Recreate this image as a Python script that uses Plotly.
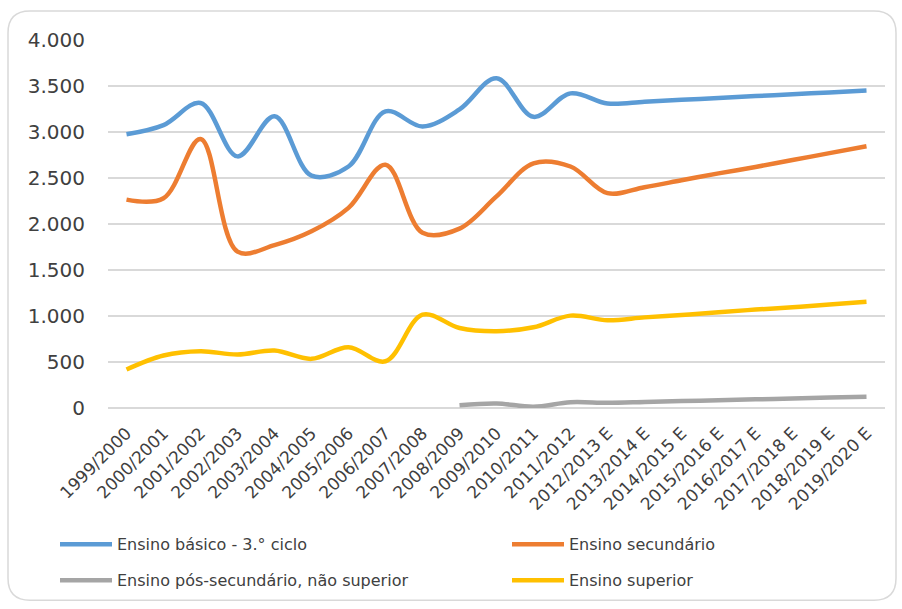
import plotly.graph_objects as go

# School years (E = estimate)
anos = [
    "1999/2000", "2000/2001", "2001/2002", "2002/2003", "2003/2004",
    "2004/2005", "2005/2006", "2006/2007", "2007/2008", "2008/2009",
    "2009/2010", "2010/2011", "2011/2012", "2012/2013 E", "2013/2014 E",
    "2014/2015 E", "2015/2016 E", "2016/2017 E", "2017/2018 E",
    "2018/2019 E", "2019/2020 E",
]

basico_3ciclo = [2975, 3075, 3315, 2735, 3170, 2525, 2625, 3225, 3060, 3245,
                 3585, 3165, 3420, 3310, 3330, 3350, 3370, 3390, 3410, 3430, 3450]

secundario = [2265, 2280, 2925, 1700, 1770, 1920, 2175, 2645, 1905, 1950,
              2300, 2660, 2625, 2335, 2400, 2475, 2550, 2620, 2695, 2770, 2845]

pos_secundario = [None, None, None, None, None, None, None, None, None, 30,
                  49, 14, 63, 56, 65, 75, 84, 94, 103, 113, 122]

superior = [418, 570, 617, 581, 624, 534, 660, 508, 1015, 870,
            835, 877, 1004, 953, 985, 1010, 1040, 1070, 1095, 1125, 1155]

# (name, values, colour, legend slot)
series = [
    ("Ensino básico - 3.° ciclo", basico_3ciclo, "#5B9BD5", "legend"),
    ("Ensino secundário", secundario, "#ED7D31", "legend2"),
    ("Ensino pós-secundário, não superior", pos_secundario, "#A5A5A5", "legend3"),
    ("Ensino superior", superior, "#FFC000", "legend4"),
]

FONT = "DejaVu Sans, Lato, sans-serif"
TXT = "#404040"

fig = go.Figure()
for nome, valores, cor, leg in series:
    fig.add_trace(go.Scatter(
        x=anos, y=valores, name=nome, mode="lines",
        line=dict(color=cor, width=4.5, shape="spline", smoothing=1.0),
        connectgaps=False, legend=leg,
    ))

W, H = 902, 609
L, R, T, B = 108, 17, 40, 200.5
pw, ph = W - L - R, H - T - B


def fx(px):
    return (px - L) / pw


def fy(py):
    return (H - B - py) / ph


# rounded chart frame
x0, x1, y0, y1, r = 8, 896, 11, 601, 22
frame = (
    f"M {fx(x0 + r)},{fy(y0)} L {fx(x1 - r)},{fy(y0)} "
    f"Q {fx(x1)},{fy(y0)} {fx(x1)},{fy(y0 + r)} "
    f"L {fx(x1)},{fy(y1 - r)} Q {fx(x1)},{fy(y1)} {fx(x1 - r)},{fy(y1)} "
    f"L {fx(x0 + r)},{fy(y1)} Q {fx(x0)},{fy(y1)} {fx(x0)},{fy(y1 - r)} "
    f"L {fx(x0)},{fy(y0 + r)} Q {fx(x0)},{fy(y0)} {fx(x0 + r)},{fy(y0)} Z"
)

legend_style = dict(
    orientation="h", xanchor="left", yanchor="middle",
    font=dict(size=16, color=TXT, family=FONT),
    itemwidth=52, bgcolor="rgba(0,0,0,0)", borderwidth=0,
)

# two columns, two rows of legend entries
col_x = [55, 507]
row_y = [545, 581]

fig.update_layout(
    width=W, height=H,
    margin=dict(l=L, r=R, t=T, b=B, pad=0),
    paper_bgcolor="white", plot_bgcolor="white",
    separators=",.",
    font=dict(family=FONT, color=TXT),
    showlegend=True,
    legend=dict(x=fx(col_x[0]), y=fy(row_y[0]), **legend_style),
    legend2=dict(x=fx(col_x[1]), y=fy(row_y[0]), **legend_style),
    legend3=dict(x=fx(col_x[0]), y=fy(row_y[1]), **legend_style),
    legend4=dict(x=fx(col_x[1]), y=fy(row_y[1]), **legend_style),
    shapes=[dict(type="path", xref="paper", yref="paper", path=frame,
                 line=dict(color="#D9D9D9", width=1.5), layer="below")],
)

fig.update_xaxes(
    type="category", tickangle=-45, showgrid=False, showline=False,
    ticks="", tickfont=dict(size=17, color=TXT), automargin=False,
    ticklabelstandoff=11, range=[-0.5, len(anos) - 0.5],
)
fig.update_yaxes(
    range=[0, 4000], dtick=500, tickformat=",.0f",
    showgrid=True, gridcolor="#D9D9D9", gridwidth=1.5,
    zeroline=True, zerolinecolor="#D9D9D9", zerolinewidth=1.5,
    showline=False, ticks="", ticklabelstandoff=22, automargin=False,
    tickfont=dict(size=20, color=TXT),
)

fig.write_html("out.html")
